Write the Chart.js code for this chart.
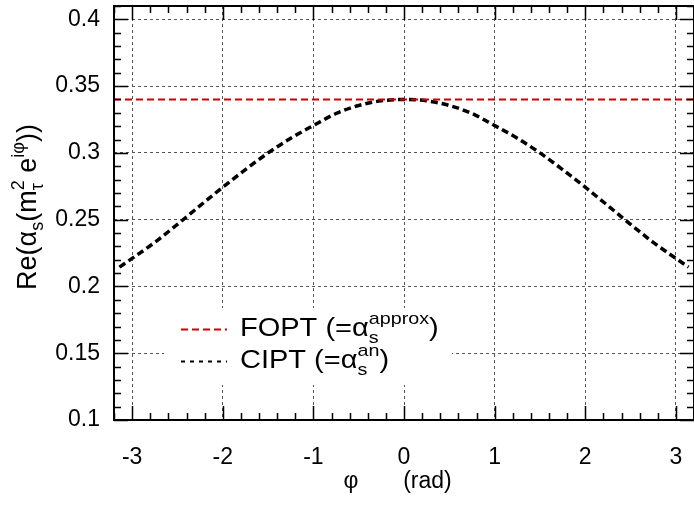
<!DOCTYPE html>
<html>
<head>
<meta charset="utf-8">
<script src="https://cdn.jsdelivr.net/npm/chart.js@4.4.0/dist/chart.umd.min.js"></script>
<style>
body{margin:0;background:#fff;}
</style>
</head>
<body>
<canvas id="re1" width="694" height="505"></canvas>
<script>
// values
var phi_list = [-3.14,-3,-2.75,-2.5,-2.25,-2,-1.75,-1.5,-1.25,-1,-0.75,-0.5,-0.25,0,0.25,0.5,0.75,1,1.25,1.5,1.75,2,2.25,2.5,2.75,3,3.14];
var cipt_list = [0.2145,0.221,0.233,0.2465,0.2605,0.2743,0.2875,0.300,0.311,0.3205,0.3295,0.3355,0.339,0.340,0.339,0.3355,0.3295,0.3205,0.311,0.300,0.2875,0.2743,0.2605,0.2465,0.233,0.221,0.2145];
var fopt_phi = [-3.2, 3.2];
var fopt_list = [0.34, 0.34];
var x_ticks = [-3,-2,-1,0,1,2,3];
var y_ticks = [0.1,0.15,0.2,0.25,0.3,0.35,0.4];

var FONT = "'Liberation Sans', Arial, sans-serif";

function pts(xs, ys){
  return xs.map(function(x, i){ return {x:x, y:ys[i]}; });
}

// text with sub/superscripts, drawn left to right from (x, y) baseline
function drawRich(ctx, parts, x, y, big, small){
  parts.forEach(function(p){
    if (p.t !== undefined){
      ctx.font = big + 'px ' + FONT;
      ctx.fillText(p.t, x, y);
      x += ctx.measureText(p.t).width;
    } else {
      ctx.font = small + 'px ' + FONT;
      var w = 0;
      if (p.sub){ ctx.fillText(p.sub, x, y + 7); w = ctx.measureText(p.sub).width; }
      if (p.sup){ ctx.fillText(p.sup, x, y - 12); w = Math.max(w, ctx.measureText(p.sup).width); }
      x += w;
    }
  });
  return x;
}
function richWidth(ctx, parts, big, small){
  var w = 0;
  parts.forEach(function(p){
    if (p.t !== undefined){ ctx.font = big + 'px ' + FONT; w += ctx.measureText(p.t).width; }
    else {
      ctx.font = small + 'px ' + FONT;
      w += Math.max(p.sub ? ctx.measureText(p.sub).width : 0, p.sup ? ctx.measureText(p.sup).width : 0);
    }
  });
  return w;
}

var ytitle = [{t:'Re(\u03b1'},{sub:'s'},{t:'(m'},{sup:'2',sub:'\u03c4'},{t:' e'},{sup:'i\u03c6'},{t:'))'}];
var leg1 = [{t:'FOPT (=\u03b1'},{sub:'s',sup:'approx'},{t:')'}];
var leg2 = [{t:'CIPT (=\u03b1'},{sub:'s',sup:'an'},{t:')'}];

var framePlugin = {
  id:'frame',
  afterDraw:function(chart){
    var ctx = chart.ctx, a = chart.chartArea;
    var xs = chart.scales.x, ys = chart.scales.y;
    ctx.save();
    ctx.strokeStyle = '#000';
    ctx.lineWidth = 1.5;
    // inner ticks, every side
    ctx.beginPath();
    for (var i = -16; i <= 16; i++){
      var px = Math.round(xs.getPixelForValue(i * 0.2)) + 0.5;
      var len = (i % 5 === 0) ? 14 : 7;
      ctx.moveTo(px, a.bottom); ctx.lineTo(px, a.bottom - len);
      ctx.moveTo(px, a.top); ctx.lineTo(px, a.top + len);
    }
    for (var j = 10; j <= 41; j++){
      var py = Math.round(ys.getPixelForValue(j * 0.01)) + 0.5;
      var l2 = (j % 5 === 0) ? 14 : 7;
      ctx.moveTo(a.left, py); ctx.lineTo(a.left + l2, py);
      ctx.moveTo(a.right, py); ctx.lineTo(a.right - l2, py);
    }
    ctx.stroke();
    ctx.lineWidth = 2;
    ctx.strokeRect(a.left, a.top, a.right - a.left, a.bottom - a.top);

    // legend
    ctx.fillStyle = '#fff';
    ctx.fillRect(164, 308, 288, 77);
    ctx.setLineDash([7,4]);
    ctx.lineWidth = 2;
    ctx.strokeStyle = '#d00000';
    ctx.beginPath(); ctx.moveTo(181, 329.5); ctx.lineTo(227, 329.5); ctx.stroke();
    ctx.setLineDash([4,5]);
    ctx.strokeStyle = '#000';
    ctx.beginPath(); ctx.moveTo(181, 361.5); ctx.lineTo(227, 361.5); ctx.stroke();
    ctx.setLineDash([]);
    ctx.fillStyle = '#000';
    ctx.textBaseline = 'alphabetic';
    ctx.textAlign = 'left';
    ctx.save();
    ctx.translate(240, 0);
    ctx.scale(1.16, 1);
    drawRich(ctx, leg1, 0, 336, 25, 17);
    drawRich(ctx, leg2, 0, 368, 25, 17);
    ctx.restore();

    // y title
    ctx.translate(36, 207);
    ctx.rotate(-Math.PI / 2);
    var w = richWidth(ctx, ytitle, 27, 18);
    drawRich(ctx, ytitle, -w / 2, 0, 27, 18);
    ctx.restore();
  }
};

var rel1 = new Chart(document.getElementById("re1"), {
  type:'line',
  data:{
    datasets:[{
      label:'FOPT',
      data:pts(fopt_phi, fopt_list),
      borderColor:'#d00000',
      borderWidth:2,
      borderDash:[7,4],
      pointRadius:0,
      fill:false
    },{
      label:'CIPT',
      data:pts(phi_list, cipt_list),
      borderColor:'#000',
      borderWidth:3.5,
      borderDash:[7,4],
      pointRadius:0,
      cubicInterpolationMode:'monotone',
      fill:false
    }]
  },
  options:{
    responsive:false,
    animation:false,
    devicePixelRatio:1,
    layout:{padding:{top:6, right:0, bottom:0, left:0}},
    plugins:{legend:{display:false}, tooltip:{enabled:false}},
    scales:{
      x:{
        type:'linear',
        min:-3.2, max:3.2,
        afterBuildTicks:function(s){ s.ticks = x_ticks.map(function(v){ return {value:v}; }); },
        afterFit:function(s){ s.height = 85; s.paddingLeft = 0; s.paddingRight = 0; },
        grid:{color:'#555', lineWidth:1, drawTicks:false},
        border:{display:false, dash:[3,3]},
        ticks:{color:'#000', padding:24, font:{family:FONT, size:23}, maxRotation:0,
               callback:function(v){ return String(v); }},
        title:{display:true, text:'\u03c6       (rad)  ', color:'#000',
               font:{family:FONT, size:23}, padding:{top:0, bottom:10}}
      },
      y:{
        min:0.1, max:0.41,
        afterBuildTicks:function(s){ s.ticks = y_ticks.map(function(v){ return {value:v}; }); },
        afterFit:function(s){ s.width = 114; s.paddingTop = 0; s.paddingBottom = 0; },
        grid:{color:'#555', lineWidth:1, drawTicks:false},
        border:{display:false, dash:[3,3]},
        ticks:{color:'#000', padding:14, font:{family:FONT, size:23},
               callback:function(v){ return String(v); }}
      }
    }
  },
  plugins:[framePlugin]
});
</script>
</body>
</html>
